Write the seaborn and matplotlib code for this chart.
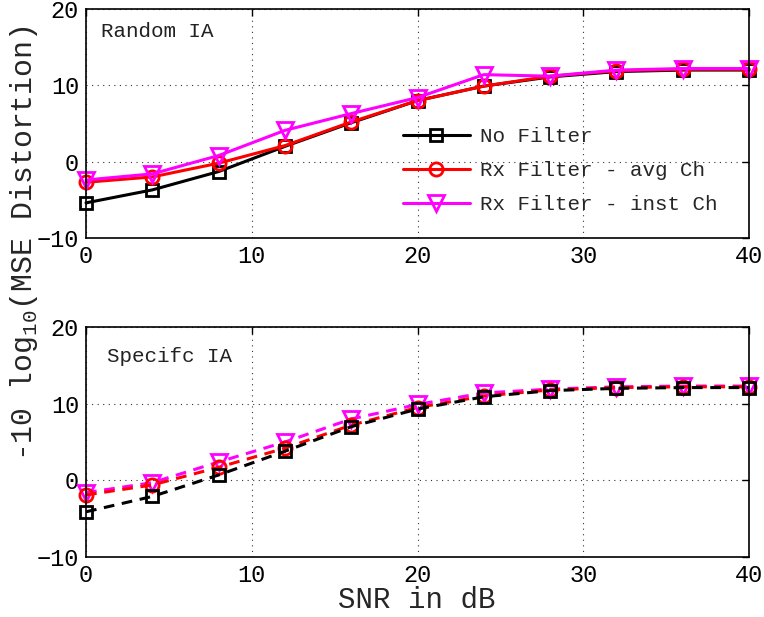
import matplotlib
matplotlib.use("Agg")
import matplotlib.pyplot as plt
import seaborn as sns
import pandas as pd
import numpy as np

snr = [0, 4, 8, 12, 16, 20, 24, 28, 32, 36, 40]
series_names = ["No Filter", "Rx Filter - avg Ch", "Rx Filter - inst Ch"]

random_no_filter = [-5.4, -3.7, -1.3, 2.0, 5.1, 8.0, 9.9, 11.1, 11.8, 12.0, 12.0]
random_avg_ch = [-2.7, -2.0, -0.2, 2.1, 5.2, 8.0, 9.9, 11.2, 11.9, 12.1, 12.1]
random_inst_ch = [-2.4, -1.6, 0.8, 4.1, 6.3, 8.4, 11.4, 11.2, 12.0, 12.2, 12.2]

specific_no_filter = [-4.1, -2.1, 0.7, 3.8, 7.0, 9.3, 10.9, 11.7, 12.0, 12.1, 12.1]
specific_avg_ch = [-1.9, -0.6, 1.7, 4.2, 7.2, 9.5, 11.0, 11.8, 12.1, 12.2, 12.2]
specific_inst_ch = [-1.6, -0.3, 2.4, 5.0, 8.0, 9.9, 11.4, 11.9, 12.2, 12.3, 12.3]

colors = ["#000000", "#ff0000", "#ff00ff"]
markers = ["s", "o", "v"]
msizes = [9, 9.5, 11]

sns.set_theme(style="white")
plt.rcParams["font.family"] = ["Liberation Mono", "DejaVu Sans"]
plt.rcParams["mathtext.fontset"] = "custom"
plt.rcParams["mathtext.rm"] = "Liberation Mono"

fig = plt.figure(figsize=(7.64, 6.17), dpi=100)
ax1 = fig.add_axes([0.1126, 0.6143, 0.8678, 0.3711])
ax2 = fig.add_axes([0.1126, 0.0972, 0.8678, 0.3728])

def style_axis(ax):
    ax.set_xlim(0, 40)
    ax.set_ylim(-10, 20)
    ax.set_xticks([0, 10, 20, 30, 40])
    ax.set_yticks([-10, 0, 10, 20])
    ax.grid(True, linestyle=(0, (1, 4)), color="#000000", linewidth=0.8, alpha=0.8)
    ax.tick_params(direction="in", top=True, right=True, length=5, width=1,
                   labelsize=17, color="black", labelcolor="black", pad=5)
    for s in ax.spines.values():
        s.set_color("black")
        s.set_linewidth(1.2)
    ax.set_xlabel("")
    ax.set_ylabel("")
    ax.set_facecolor("white")

top_vals = [random_no_filter, random_avg_ch, random_inst_ch]
for name, vals, c, m, ms in zip(series_names, top_vals, colors, markers, msizes):
    df = pd.DataFrame({"snr": snr, "val": vals})
    sns.lineplot(data=df, x="snr", y="val", ax=ax1, color=c, marker=m,
                 markersize=ms, markerfacecolor="none", markeredgecolor=c,
                 markeredgewidth=2, linewidth=2.2, label=name, clip_on=False)
style_axis(ax1)
leg = ax1.legend(loc="upper left", bbox_to_anchor=(0.478, 0.484), frameon=False,
                 fontsize=15, handlelength=3.2, handletextpad=0.5,
                 borderaxespad=0, borderpad=0, labelspacing=0.72)
ax1.text(0.0226, 0.90, "Random IA", transform=ax1.transAxes, fontsize=15,
         color="#222222", va="center", ha="left")

bot_vals = [specific_no_filter, specific_avg_ch, specific_inst_ch]
order = [2, 1, 0]
for i in order:
    df = pd.DataFrame({"snr": snr, "val": bot_vals[i]})
    sns.lineplot(data=df, x="snr", y="val", ax=ax2, color=colors[i], marker=markers[i],
                 markersize=msizes[i], markerfacecolor="none", markeredgecolor=colors[i],
                 markeredgewidth=2, linewidth=2.2, linestyle=(0, (3.5, 2.5)),
                 clip_on=False)
style_axis(ax2)
ax2.text(0.0317, 0.87, "Specifc IA", transform=ax2.transAxes, fontsize=15,
         color="#222222", va="center", ha="left")
if ax2.get_legend() is not None:
    ax2.get_legend().remove()

fig.text(0.546, 0.0276, "SNR in dB", ha="center", va="center", fontsize=21)
fig.text(0.031, 0.606, "-10 log$_{10}$(MSE Distortion)", rotation=90,
         ha="center", va="center", fontsize=21.5)

fig.savefig("out.png", dpi=100, facecolor="white")
